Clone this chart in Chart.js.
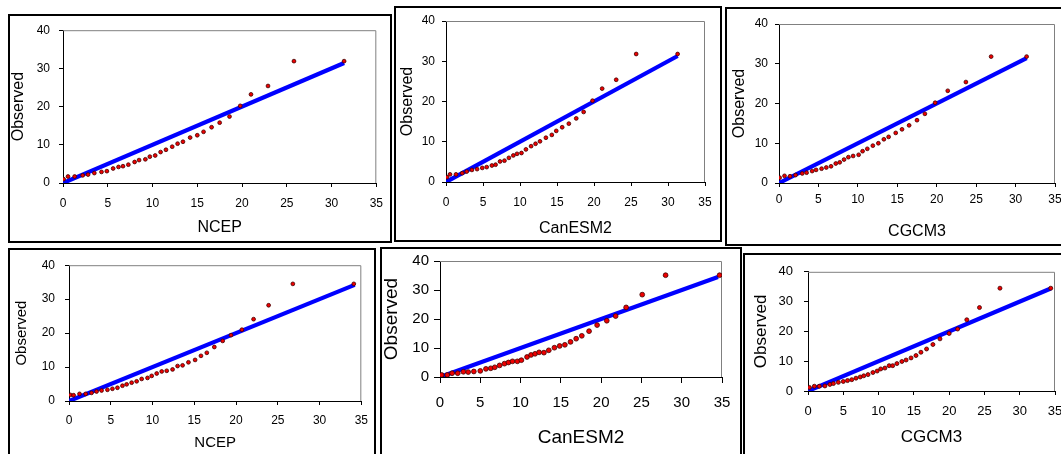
<!DOCTYPE html>
<html>
<head>
<meta charset="utf-8">
<script src="https://cdn.jsdelivr.net/npm/chart.js@4.4.0/dist/chart.umd.min.js"></script>
<style>
html, body { margin: 0; padding: 0; background: #fff; width: 1061px; height: 454px; overflow: hidden; position: relative; }
.frame { position: absolute; border: 2px solid #000; box-sizing: border-box; }
canvas { position: absolute; }
</style>
</head>
<body>
<script>
// Q-Q values (x = model quantile, y = observed quantile)
const ncepTopX = [0.07, 0.56, 1.3, 2.2, 2.8, 3.5, 4.3, 4.9, 5.6, 6.2, 6.7, 7.3, 8.0, 8.5, 9.2, 9.7, 10.3, 10.9, 11.5, 12.2, 12.8, 13.4, 14.2, 15.0, 15.7, 16.6, 17.5, 18.6, 19.8, 21.0, 22.9, 25.8, 31.4];
const ncepTopY = [1.0, 1.7, 1.7, 2.0, 2.2, 2.6, 2.9, 3.1, 3.8, 4.2, 4.4, 4.8, 5.5, 6.0, 6.2, 6.9, 7.2, 8.1, 8.7, 9.5, 10.3, 10.8, 11.9, 12.5, 13.4, 14.6, 15.8, 17.4, 20.2, 23.2, 25.4, 31.9, 31.9];

const canTopX = [0.13, 0.54, 1.35, 2.2, 2.8, 3.5, 4.2, 4.9, 5.5, 6.2, 6.7, 7.3, 7.9, 8.5, 9.1, 9.6, 10.2, 10.8, 11.5, 12.1, 12.7, 13.5, 14.3, 14.9, 15.7, 16.6, 17.6, 18.6, 19.8, 21.1, 23.0, 25.7, 31.3];
const canTopY = [1.2, 1.9, 1.9, 2.2, 2.6, 3.0, 3.2, 3.5, 3.7, 4.1, 4.3, 5.1, 5.3, 6.0, 6.6, 7.0, 7.2, 8.1, 8.9, 9.5, 10.1, 11.0, 11.7, 12.7, 13.6, 14.5, 15.8, 17.4, 20.2, 23.2, 25.4, 31.8, 31.8];

const cgcmTopX = [0.08, 0.7, 1.4, 2.1, 2.95, 3.5, 4.2, 4.7, 5.4, 6.0, 6.6, 7.2, 7.7, 8.25, 8.8, 9.4, 10.1, 10.6, 11.2, 11.9, 12.6, 13.3, 13.9, 14.8, 15.6, 16.5, 17.5, 18.5, 19.8, 21.4, 23.7, 26.9, 31.4];
const cgcmTopY = [1.35, 1.8, 1.7, 2.0, 2.4, 2.6, 3.0, 3.3, 3.6, 3.9, 4.2, 4.9, 5.2, 5.9, 6.5, 6.8, 7.1, 8.0, 8.6, 9.4, 10.0, 11.0, 11.6, 12.6, 13.5, 14.5, 15.8, 17.4, 20.2, 23.2, 25.4, 31.8, 31.8];

const ncepBotX = [0.16, 0.55, 1.26, 2.0, 2.7, 3.3, 3.9, 4.6, 5.2, 5.8, 6.4, 6.9, 7.5, 8.1, 8.7, 9.4, 9.9, 10.5, 11.1, 11.7, 12.4, 13.0, 13.6, 14.3, 15.1, 15.8, 16.5, 17.4, 18.4, 19.4, 20.7, 22.1, 23.9, 26.8, 34.1];
const ncepBotY = [1.8, 1.7, 2.1, 2.1, 2.4, 2.8, 3.1, 3.3, 3.6, 3.9, 4.5, 4.9, 5.4, 5.8, 6.5, 6.8, 7.4, 8.1, 8.7, 8.9, 9.3, 10.3, 10.5, 11.4, 12.1, 13.3, 14.2, 15.9, 17.7, 19.4, 21.0, 24.1, 28.2, 34.5, 34.5];

const canBotX = [0.2, 0.9, 1.5, 2.2, 2.9, 3.5, 4.2, 5.0, 5.7, 6.3, 6.8, 7.4, 8.0, 8.5, 9.0, 9.6, 10.1, 10.8, 11.3, 11.8, 12.3, 12.9, 13.5, 14.2, 14.85, 15.5, 16.2, 16.9, 17.6, 18.5, 19.5, 20.7, 21.8, 23.1, 25.1, 28.0, 34.7];
const canBotY = [0.7, 0.7, 1.3, 1.3, 1.8, 1.7, 1.9, 2.1, 2.8, 3.0, 3.35, 4.0, 4.6, 5.0, 5.4, 5.4, 5.8, 6.9, 7.6, 8.0, 8.5, 8.4, 9.2, 10.1, 10.7, 11.1, 12.1, 13.2, 14.2, 15.8, 17.9, 19.4, 21.0, 24.0, 28.4, 35.1, 35.1];

const cgcmBotX = [0.2, 0.9, 1.6, 2.4, 3.1, 3.6, 4.3, 5.0, 5.6, 6.2, 6.8, 7.4, 7.9, 8.5, 9.2, 9.8, 10.3, 10.9, 11.5, 12.0, 12.6, 13.3, 13.9, 14.6, 15.3, 16.0, 16.8, 17.7, 18.7, 20.0, 21.2, 22.5, 24.3, 27.2, 34.4];
const cgcmBotY = [1.2, 1.6, 1.6, 1.7, 2.2, 2.5, 2.9, 3.2, 3.5, 3.8, 4.3, 4.7, 5.1, 5.5, 6.2, 6.7, 7.4, 7.7, 8.5, 8.5, 9.2, 9.9, 10.4, 11.1, 11.9, 13.0, 14.1, 15.6, 17.5, 19.3, 20.8, 23.9, 28.0, 34.5, 34.5];

// end of the 1:1 line in each panel
const lineEnds = [31.4, 31.3, 31.4, 34.2, 34.5, 34.4];
const xTitles = ['NCEP', 'CanESM2', 'CGCM3', 'NCEP', 'CanESM2', 'CGCM3'];
const yTitle = 'Observed';
const xMax = 35, xStep = 5, yMax = 40, yStep = 10;

// layout of each framed panel (page pixels)
const panels = [
    { xs: ncepTopX, ys: ncepTopY, frame: [8, 14, 384, 229], plot: [63, 30, 377, 183], xTitleY: 228, yTitleX: 19, tSize: 16, kSize: 12, tl: 4, xPad: 9, yPad: 9, r: 1.9 },
    { xs: canTopX, ys: canTopY, frame: [394, 6, 328, 236], plot: [446, 21, 705, 182], xTitleY: 229, yTitleX: 408, tSize: 16, kSize: 12, tl: 4, xPad: 9, yPad: 7, r: 1.9 },
    { xs: cgcmTopX, ys: cgcmTopY, frame: [725, 7, 350, 239], plot: [779, 24, 1055, 183], xTitleY: 232, yTitleX: 740, tSize: 16, kSize: 12, tl: 4, xPad: 5, yPad: 7, r: 1.9 },
    { xs: ncepBotX, ys: ncepBotY, frame: [8, 248, 368, 222], plot: [69, 258, 364, 401], xTitleY: 443, yTitleX: 22, tSize: 15, kSize: 12, tl: 4, xPad: 8, yPad: 10, r: 1.9 },
    { xs: canBotX, ys: canBotY, frame: [380, 247, 362, 223], plot: [440, 257, 722, 377], xTitleY: 438, yTitleX: 392, tSize: 19, kSize: 15, tl: 6, xPad: 11, yPad: 5, r: 2.4 },
    { xs: cgcmBotX, ys: cgcmBotY, frame: [743, 253, 332, 217], plot: [808, 265, 1055, 391], xTitleY: 437, yTitleX: 761, tSize: 17, kSize: 13, tl: 4, xPad: 9, yPad: 11, r: 2.0 }
];

// grey top/right edge of the plot area
const plotBox = {
    id: 'plotBox',
    beforeDatasetsDraw(chart) {
        const a = chart.chartArea, ctx = chart.ctx;
        ctx.save();
        ctx.strokeStyle = '#808080';
        ctx.lineWidth = 1;
        ctx.beginPath();
        ctx.moveTo(a.left, a.top + 0.5);
        ctx.lineTo(a.right - 0.5, a.top + 0.5);
        ctx.lineTo(a.right - 0.5, a.bottom);
        ctx.stroke();
        ctx.restore();
    }
};

const narrow = "'Liberation Sans Narrow', 'Arial Narrow', 'Liberation Sans', Arial, sans-serif";
const plain = "'Liberation Sans', Arial, sans-serif";

panels.forEach((p, i) => {
    const [fx, fy, fw, fh] = p.frame;
    const [pl, pt, pr, pb] = p.plot;

    const box = document.createElement('div');
    box.className = 'frame';
    box.style.left = fx + 'px';
    box.style.top = fy + 'px';
    box.style.width = fw + 'px';
    box.style.height = fh + 'px';
    document.body.appendChild(box);

    const cv = document.createElement('canvas');
    cv.width = fw;
    cv.height = fh;
    cv.style.left = fx + 'px';
    cv.style.top = fy + 'px';
    document.body.appendChild(cv);

    const pts = p.xs.map((x, k) => ({ x: x, y: p.ys[k] }));
    const end = lineEnds[i];

    new Chart(cv.getContext('2d'), {
        type: 'scatter',
        data: {
            datasets: [{
                label: 'Observed',
                data: pts,
                backgroundColor: '#ee0000',
                borderColor: '#400000',
                borderWidth: 0.8,
                pointRadius: p.r
            }, {
                label: '1:1',
                data: [{ x: 0, y: 0 }, { x: end, y: end }],
                showLine: true,
                borderColor: '#0000ff',
                borderWidth: 4.2,
                pointRadius: 0
            }]
        },
        options: {
            responsive: false,
            animation: false,
            devicePixelRatio: 1,
            layout: { padding: { left: 0, top: pt - fy, right: fx + fw - pr, bottom: 0 } },
            plugins: { legend: { display: false }, tooltip: { enabled: false } },
            scales: {
                x: {
                    type: 'linear', min: 0, max: xMax,
                    afterFit: s => { s.height = fy + fh - pb; },
                    ticks: { stepSize: xStep, color: '#000', padding: p.xPad, font: { family: plain, size: p.kSize } },
                    grid: { drawOnChartArea: false, tickLength: p.tl, color: '#000' },
                    border: { color: '#000', width: 1 },
                    title: {
                        display: true, text: xTitles[i], color: '#000',
                        font: { family: narrow, size: p.tSize, lineHeight: 1 },
                        padding: { top: 0, bottom: (fy + fh - p.xTitleY) - p.tSize / 2 }
                    }
                },
                y: {
                    type: 'linear', min: 0, max: yMax,
                    afterFit: s => { s.width = pl - fx; },
                    ticks: { stepSize: yStep, color: '#000', padding: p.yPad, font: { family: plain, size: p.kSize } },
                    grid: { drawOnChartArea: false, tickLength: p.tl, color: '#000' },
                    border: { color: '#000', width: 1 },
                    title: {
                        display: true, text: yTitle, color: '#000',
                        font: { family: narrow, size: p.tSize, lineHeight: 1 },
                        padding: { top: (p.yTitleX - fx) - p.tSize / 2, bottom: 0 }
                    }
                }
            }
        },
        plugins: [plotBox]
    });
});
</script>
</body>
</html>
